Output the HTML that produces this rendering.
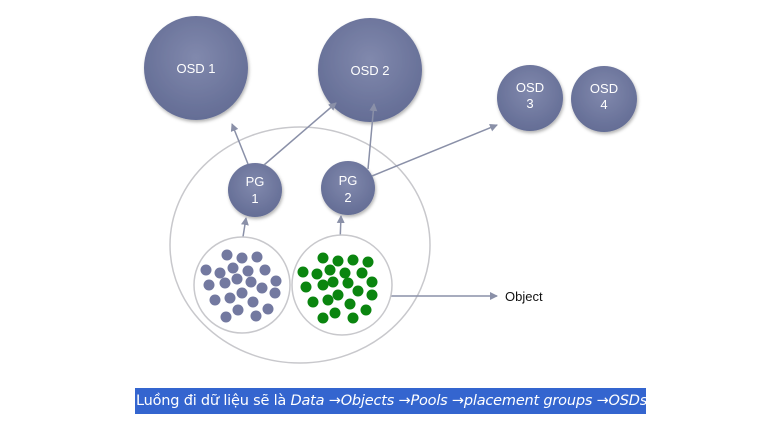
<!DOCTYPE html>
<html><head><meta charset="utf-8"><style>
body{margin:0;width:760px;height:432px;background:#fff;overflow:hidden;position:relative;font-family:"Liberation Sans","DejaVu Sans",sans-serif}
.cap{position:absolute;left:135px;top:388px;width:511px;height:26px;background:#3465cf;color:#fff;font-family:"DejaVu Sans","Liberation Sans",sans-serif;font-size:14.5px;line-height:26px;white-space:nowrap;text-indent:1px;letter-spacing:-0.2px}
</style></head><body>
<svg width="760" height="432" style="position:absolute;left:0;top:0">
<defs>
<radialGradient id="g" cx="50%" cy="40%" r="60%"><stop offset="0" stop-color="#8189ad"/><stop offset="1" stop-color="#646d95"/></radialGradient>
<marker id="a" markerWidth="8" markerHeight="8" refX="7" refY="4" orient="auto" markerUnits="userSpaceOnUse"><path d="M0,0L8,4L0,8z" fill="#8a90a8"/></marker>
<filter id="s"><feDropShadow dx="1" dy="2" stdDeviation="1.5" flood-opacity="0.3"/></filter>
</defs>
<ellipse cx="300" cy="245" rx="130" ry="118" fill="none" stroke="#c8c8cc" stroke-width="1.5"/>
<g filter="url(#s)" fill="url(#g)">
<circle cx="196" cy="68" r="52"/><circle cx="370" cy="70" r="52"/>
<circle cx="530" cy="98" r="33"/><circle cx="604" cy="99" r="33"/>
<circle cx="255" cy="190" r="27"/><circle cx="348" cy="188" r="27"/>
</g>
<g stroke="#8a90a8" stroke-width="1.5" marker-end="url(#a)">
<line x1="248" y1="164" x2="232" y2="124"/>
<line x1="264" y1="165" x2="336" y2="103"/>
<line x1="368" y1="169" x2="374" y2="104"/>
<line x1="372" y1="176" x2="497" y2="125"/>
<line x1="242" y1="243" x2="246" y2="218"/>
<line x1="340" y1="243" x2="341" y2="216"/>
<line x1="374" y1="296" x2="497" y2="296"/>
</g>
<circle cx="242" cy="285" r="48" fill="#fff" stroke="#c8c8cc" stroke-width="1.5"/>
<circle cx="342" cy="285" r="50" fill="#fff" stroke="#c8c8cc" stroke-width="1.5"/>
<g fill="#7379a0">
<circle cx="227" cy="255" r="5.5"/><circle cx="242" cy="258" r="5.5"/><circle cx="257" cy="257" r="5.5"/><circle cx="206" cy="270" r="5.5"/><circle cx="220" cy="273" r="5.5"/><circle cx="233" cy="268" r="5.5"/><circle cx="248" cy="271" r="5.5"/><circle cx="265" cy="270" r="5.5"/><circle cx="209" cy="285" r="5.5"/><circle cx="225" cy="283" r="5.5"/><circle cx="237" cy="279" r="5.5"/><circle cx="251" cy="282" r="5.5"/><circle cx="262" cy="288" r="5.5"/><circle cx="276" cy="281" r="5.5"/><circle cx="215" cy="300" r="5.5"/><circle cx="230" cy="298" r="5.5"/><circle cx="242" cy="293" r="5.5"/><circle cx="253" cy="302" r="5.5"/><circle cx="275" cy="293" r="5.5"/><circle cx="226" cy="317" r="5.5"/><circle cx="238" cy="310" r="5.5"/><circle cx="256" cy="316" r="5.5"/><circle cx="268" cy="309" r="5.5"/>
</g>
<g fill="#0a850f">
<circle cx="323" cy="258" r="5.5"/><circle cx="338" cy="261" r="5.5"/><circle cx="353" cy="260" r="5.5"/><circle cx="368" cy="262" r="5.5"/><circle cx="303" cy="272" r="5.5"/><circle cx="317" cy="274" r="5.5"/><circle cx="330" cy="270" r="5.5"/><circle cx="345" cy="273" r="5.5"/><circle cx="362" cy="273" r="5.5"/><circle cx="306" cy="287" r="5.5"/><circle cx="323" cy="285" r="5.5"/><circle cx="333" cy="282" r="5.5"/><circle cx="348" cy="283" r="5.5"/><circle cx="358" cy="291" r="5.5"/><circle cx="372" cy="282" r="5.5"/><circle cx="313" cy="302" r="5.5"/><circle cx="328" cy="300" r="5.5"/><circle cx="338" cy="295" r="5.5"/><circle cx="350" cy="304" r="5.5"/><circle cx="372" cy="295" r="5.5"/><circle cx="323" cy="318" r="5.5"/><circle cx="335" cy="313" r="5.5"/><circle cx="353" cy="318" r="5.5"/><circle cx="366" cy="310" r="5.5"/>
</g>
<g fill="#fff" font-size="13" text-anchor="middle" font-family="Liberation Sans,sans-serif">
<text x="196" y="73">OSD 1</text><text x="370" y="75">OSD 2</text>
<text x="530" y="92">OSD</text><text x="530" y="108">3</text>
<text x="604" y="93">OSD</text><text x="604" y="109">4</text>
<text x="255" y="186">PG</text><text x="255" y="203">1</text>
<text x="348" y="185">PG</text><text x="348" y="202">2</text>
</g>
<text x="505" y="301" font-size="13" fill="#111">Object</text>
</svg>
<div class="cap">Luồng đi dữ liệu sẽ là <i>Data →Objects →Pools →placement groups →OSDs</i></div>
</body></html>
